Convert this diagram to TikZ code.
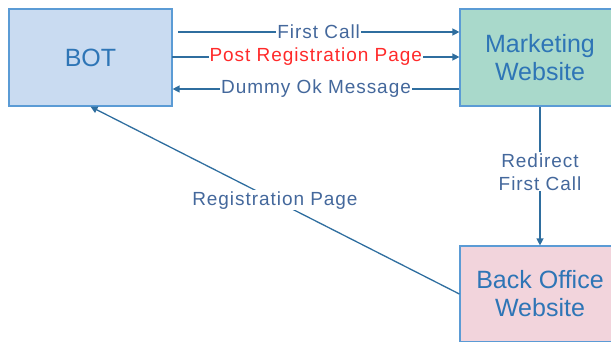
\documentclass[tikz,border=0pt]{standalone}
\usepackage{fontspec}
\setmainfont{Liberation Sans}
\newfontfamily\labfont[LetterSpace=5]{Liberation Sans}
\usetikzlibrary{arrows.meta,calc}
\definecolor{botfill}{HTML}{C9DBF1}
\definecolor{mkfill}{HTML}{A9D9CB}
\definecolor{bofill}{HTML}{F2D4DC}
\definecolor{boxline}{HTML}{5B9BD5}
\definecolor{boxtext}{HTML}{2E75B6}
\definecolor{arrowcol}{HTML}{2F6E9F}
\definecolor{labcol}{HTML}{44689C}
\definecolor{redlab}{HTML}{FF2A2A}
\begin{document}
\begin{tikzpicture}[x=1pt,y=-1pt,
  box/.style={draw=boxline,line width=1.2pt,minimum width=163pt,minimum height=97pt,inner sep=0pt,
    align=center,text=boxtext,font=\fontsize{25}{28}\selectfont},
  conn/.style={draw=arrowcol,line width=1.3pt,-{Triangle[length=7pt,width=7pt]}},
  lab/.style={fill=white,inner sep=1pt,text=labcol,font=\labfont\fontsize{19}{23}\selectfont,align=center}]
\useasboundingbox (0,0) rectangle (611,342);
\clip (0,0) rectangle (611,342);
\node[box,fill=botfill] (bot) at (90.5,57.5) {BOT};
\node[box,fill=mkfill,minimum width=160pt] (mw) at (540,57.5) {Marketing\\Website};
\node[box,fill=bofill,minimum width=160pt,minimum height=96pt] (bo) at (540,294) {Back Office\\Website};
\coordinate (fc) at (178,32);
\coordinate (pr) at (172,57);
\coordinate (dm) at (172,89);
\draw[conn] (fc) -- node[lab]{First Call} (mw.west |- fc);
\draw[conn] (pr) -- node[lab,text=redlab]{Post Registration Page} (mw.west |- pr);
\draw[conn] (mw.west |- dm) -- node[lab]{Dummy Ok Message} (bot.east |- dm);
\draw[conn] (mw.south) -- node[lab,pos=0.47]{Redirect\\First Call} (bo.north);
\draw[conn] (bo.west) -- node[lab,pos=0.5]{Registration Page} (bot.south);
\end{tikzpicture}
\end{document}
